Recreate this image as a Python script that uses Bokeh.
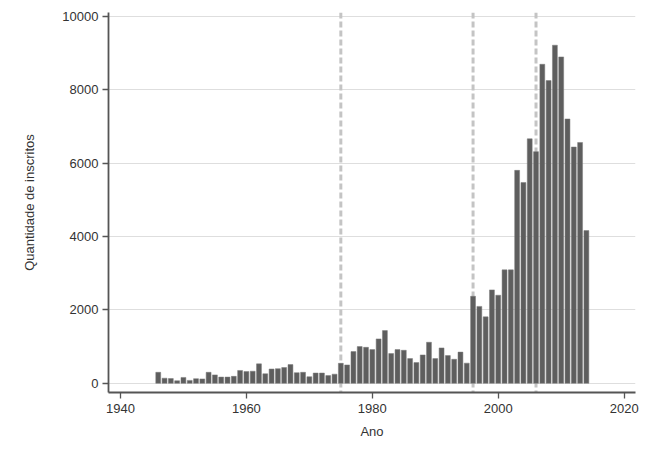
from bokeh.plotting import figure
from bokeh.models import Span, FixedTicker, Range1d
from bokeh.embed import file_html
from bokeh.resources import INLINE

years = list(range(1946, 2015))
counts = [300, 140, 130, 70, 160, 80, 127, 120, 300, 230,
          170, 170, 190, 350, 320, 330, 530, 260, 390, 400,
          430, 510, 290, 300, 180, 280, 280, 210, 250, 545,
          500, 864, 1000, 980, 918, 1210, 1436, 810, 918, 900,
          673, 564, 773, 1118, 673, 964, 755, 655, 850, 550,
          2370, 2095, 1810, 2545, 2400, 3090, 3090, 5800, 5470, 6660,
          6310, 8690, 8245, 9209, 8890, 7200, 6436, 6560, 4160]
period_marks = [1975, 1996, 2006]
x_ticks = [1940, 1960, 1980, 2000, 2020]
y_ticks = [0, 2000, 4000, 6000, 8000, 10000]

FONT = "Liberation Sans"

p = figure(width=642, height=442, output_backend="svg", toolbar_location=None,
           x_range=Range1d(1938.1, 2021.8), y_range=Range1d(-250, 10100),
           min_border_left=108, min_border_right=7, min_border_top=12,
           min_border_bottom=50)
p.outline_line_color = None
p.background_fill_color = "white"

for yr in period_marks:
    p.add_layout(Span(location=yr, dimension="height", line_color="#c4c4c4",
                      line_width=3, line_dash="6 3", level="underlay"))

p.vbar(x=years, top=counts, width=0.78, bottom=0,
       fill_color="#5e5e5e", line_color="#7a7a7a", line_width=0.5)

p.xgrid.grid_line_color = None
p.ygrid.grid_line_color = "#dedede"
p.ygrid.grid_line_width = 1

p.xaxis.ticker = FixedTicker(ticks=x_ticks)
p.yaxis.ticker = FixedTicker(ticks=y_ticks)
for ax in (p.xaxis[0], p.yaxis[0]):
    ax.axis_line_color = "#555555"
    ax.axis_line_width = 1.8
    ax.major_tick_line_color = "#555555"
    ax.major_tick_line_width = 1.3
    ax.major_tick_out = 6
    ax.major_tick_in = 0
    ax.minor_tick_line_color = None
    ax.major_label_text_font = FONT
    ax.major_label_text_font_size = "13px"
    ax.major_label_text_color = "#333333"
    ax.axis_label_text_font = FONT
    ax.axis_label_text_font_size = "13px"
    ax.axis_label_text_font_style = "normal"
    ax.axis_label_text_color = "#333333"

p.xaxis.axis_label = "Ano"
p.yaxis.axis_label = "Quantidade de inscritos"
p.xaxis.major_label_standoff = 5
p.xaxis.axis_label_standoff = 8
p.yaxis.major_label_standoff = 4
p.yaxis.axis_label_standoff = 22

open("out.html", "w").write(file_html(p, INLINE))
